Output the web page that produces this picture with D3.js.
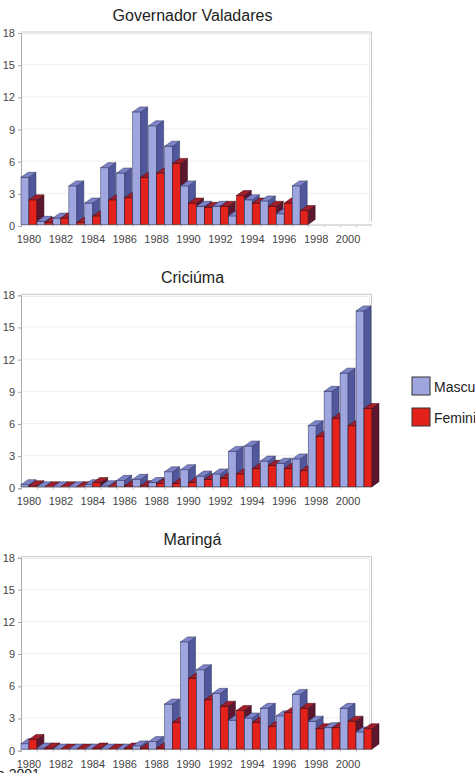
<!DOCTYPE html>
<html>
<head>
<meta charset="utf-8">
<script src="https://cdnjs.cloudflare.com/ajax/libs/d3/7.8.5/d3.min.js"></script>
<style>
  body { margin: 0; background: #fff; }
  svg { display: block; font-family: "Liberation Sans", Arial, sans-serif; }
</style>
</head>
<body>
<div id="chart-area"></div>
<script>
// Data
var years = d3.range(1980, 2002);
var yTicks = [0, 3, 6, 9, 12, 15, 18];
var xTickYears = [1980, 1982, 1984, 1986, 1988, 1990, 1992, 1994, 1996, 1998, 2000];
var seriesNames = ["Masculino", "Feminino"];

var titles = ["Governador Valadares", "Criciúma", "Maringá"];

var gvMale   = [4.4, 0.3, 0.6, 3.6, 2.0, 5.3, 4.8, 10.5, 9.2, 7.3, 3.6, 1.7, 1.7, 0.8, 2.3, 2.2, 1.0, 3.6, null, null, null, null];
var gvFemale = [2.3, 0.2, 0.6, 0.2, 0.8, 2.3, 2.5, 4.4, 4.8, 5.7, 2.0, 1.6, 1.7, 2.7, 2.0, 1.7, 2.0, 1.3, null, null, null, null];

var crMale   = [0.2, 0, 0, 0, 0.2, 0.1, 0.6, 0.7, 0.4, 1.4, 1.6, 1.0, 1.2, 3.3, 3.8, 2.4, 2.2, 2.6, 5.7, 8.9, 10.6, 16.4];
var crFemale = [0.1, 0, 0, 0, 0.4, 0, 0.1, 0.1, 0.3, 0.3, 0.4, 0.7, 0.8, 1.2, 1.7, 2.0, 1.7, 1.5, 4.7, 6.4, 5.7, 7.3];

var mgMale   = [0.5, 0.1, 0, 0, 0, 0, 0, 0.3, 0.7, 4.2, 10.0, 7.4, 5.2, 2.7, 2.9, 3.8, 3.1, 5.1, 2.6, 2.0, 3.8, 1.6];
var mgFemale = [0.9, 0.1, 0, 0, 0.1, 0, 0.1, 0.1, 0.1, 2.5, 6.6, 4.6, 4.0, 3.6, 2.5, 2.1, 3.4, 3.8, 1.9, 2.0, 2.6, 1.9];

var panelData = [[gvMale, gvFemale], [crMale, crFemale], [mgMale, mgFemale]];

// colours of the 3D faces
var faces = [
  { front: "#9ea5df", top: "#7c83c8", side: "#50579a", stroke: "#2c2f5a" },
  { front: "#e3231b", top: "#a41d2b", side: "#5c1730", stroke: "#3a0d12" }
];

var W = 475, H = 773;
var left = 21, right = 372;
var depthX = 7, depthY = 5;
var panelStep = 262.3;

var svg = d3.select("#chart-area")
    .append("svg")
        .attr("width", W)
        .attr("height", H);

// X scales: one band per year, split in two for the series
var x = d3.scaleBand()
    .domain(years)
    .range([left, right])
    .padding(0);

var xInner = d3.scaleBand()
    .domain([0, 1])
    .range([0, x.bandwidth()])
    .padding(0);

titles.forEach(function(title, p) {
    var base = 224.5 + p * panelStep;
    var top = 31.5 + p * panelStep;

    var y = d3.scaleLinear()
        .domain([0, 18])
        .range([base, top]);

    var g = svg.append("g").attr("class", "panel");

    // Title
    g.append("text")
        .attr("x", 192.5)
        .attr("y", top - 11)
        .attr("text-anchor", "middle")
        .attr("font-size", "16px")
        .attr("fill", "#222")
        .text(title);

    // Grid lines on the back wall
    g.selectAll("line.grid")
        .data(yTicks.slice(1, -1))
        .enter().append("line")
            .attr("class", "grid")
            .attr("x1", left)
            .attr("x2", right - 3)
            .attr("y1", function(d) { return y(d) + 1; })
            .attr("y2", function(d) { return y(d) + 1; })
            .attr("stroke", "#efefef");

    // Wall frame
    g.append("path")
        .attr("d", "M" + left + "," + (y(18) + 0.5) + "H" + (right - 0.5) + "V" + (base - 3))
        .attr("fill", "none")
        .attr("stroke", "#c8c8c8");
    g.append("path")
        .attr("d", "M" + left + "," + (y(18) + 2.5) + "H" + (right - 2.5) + "V" + (base - 3))
        .attr("fill", "none")
        .attr("stroke", "#e6e6e6");

    // Floor line + small category ticks
    g.append("line")
        .attr("x1", left).attr("x2", right)
        .attr("y1", base + 0.5).attr("y2", base + 0.5)
        .attr("stroke", "#bbb");
    g.selectAll("line.xtick")
        .data(years)
        .enter().append("line")
            .attr("class", "xtick")
            .attr("x1", function(d) { return x(d) + 0.5; })
            .attr("x2", function(d) { return x(d) + 0.5; })
            .attr("y1", base + 0.5)
            .attr("y2", base + 3)
            .attr("stroke", "#ccc");

    // Y axis
    var yAxisCall = d3.axisLeft(y)
        .tickValues(yTicks)
        .tickSize(3)
        .tickPadding(3);
    var yAxisGroup = g.append("g")
        .attr("class", "y axis")
        .attr("transform", "translate(" + left + ", 1.5)")
        .call(yAxisCall);
    yAxisGroup.select(".domain").attr("stroke", "#aaa");
    yAxisGroup.selectAll(".tick line").attr("stroke", "#aaa");
    yAxisGroup.selectAll("text")
        .attr("font-size", "11px")
        .attr("font-family", "Liberation Sans, Arial, sans-serif")
        .attr("fill", "#444");

    // X labels
    g.selectAll("text.xlab")
        .data(xTickYears)
        .enter().append("text")
            .attr("class", "xlab")
            .attr("x", function(d) { return x(d) + x.bandwidth() / 2; })
            .attr("y", base + 18.5)
            .attr("text-anchor", "middle")
            .attr("font-size", "11px")
            .attr("fill", "#444")
            .text(function(d) { return d; });

    // Bars, drawn left to right so each front face covers the previous side
    var bars = [];
    years.forEach(function(yr, i) {
        panelData[p].forEach(function(series, s) {
            if (series[i] !== null) bars.push({ year: yr, s: s, value: series[i] });
        });
    });

    var bar = g.selectAll("g.bar")
        .data(bars)
        .enter().append("g")
            .attr("class", "bar");

    // front
    bar.append("rect")
        .attr("x", function(d) { return x(d.year) + xInner(d.s); })
        .attr("y", function(d) { return y(d.value); })
        .attr("width", xInner.bandwidth())
        .attr("height", function(d) { return base - y(d.value); })
        .attr("fill", function(d) { return faces[d.s].front; })
        .attr("stroke", function(d) { return faces[d.s].stroke; })
        .attr("stroke-width", 0.5);

    // side
    bar.append("path")
        .attr("d", function(d) {
            var x1 = x(d.year) + xInner(d.s) + xInner.bandwidth(), yt = y(d.value);
            return "M" + x1 + "," + yt + "L" + (x1 + depthX) + "," + (yt - depthY) +
                   "L" + (x1 + depthX) + "," + (base - depthY) + "L" + x1 + "," + base + "Z";
        })
        .attr("fill", function(d) { return faces[d.s].side; })
        .attr("stroke", function(d) { return faces[d.s].stroke; })
        .attr("stroke-width", 0.5);

    // top
    bar.append("path")
        .attr("d", function(d) {
            var x0 = x(d.year) + xInner(d.s), x1 = x0 + xInner.bandwidth(), yt = y(d.value);
            return "M" + x0 + "," + yt + "L" + (x0 + depthX) + "," + (yt - depthY) +
                   "L" + (x1 + depthX) + "," + (yt - depthY) + "L" + x1 + "," + yt + "Z";
        })
        .attr("fill", function(d) { return faces[d.s].top; })
        .attr("stroke", function(d) { return faces[d.s].stroke; })
        .attr("stroke-width", 0.5);
});

// Legend (the labels run past the right edge, as in the original)
var legend = svg.selectAll("g.legend")
    .data(seriesNames)
    .enter().append("g")
        .attr("class", "legend")
        .attr("transform", function(d, i) { return "translate(412, " + (377 + i * 31) + ")"; });

legend.append("rect")
    .attr("width", 18)
    .attr("height", 18)
    .attr("fill", function(d, i) { return faces[i].front; })
    .attr("stroke", "#333")
    .attr("stroke-width", 1);

legend.append("text")
    .attr("x", 22)
    .attr("y", 15)
    .attr("font-size", "14px")
    .attr("fill", "#222")
    .text(function(d) { return d; });

// Source note, cut by the bottom edge
svg.append("text")
    .attr("x", -3)
    .attr("y", 779)
    .attr("font-size", "14px")
    .attr("fill", "#222")
    .text("e 2001");
</script>
</body>
</html>
